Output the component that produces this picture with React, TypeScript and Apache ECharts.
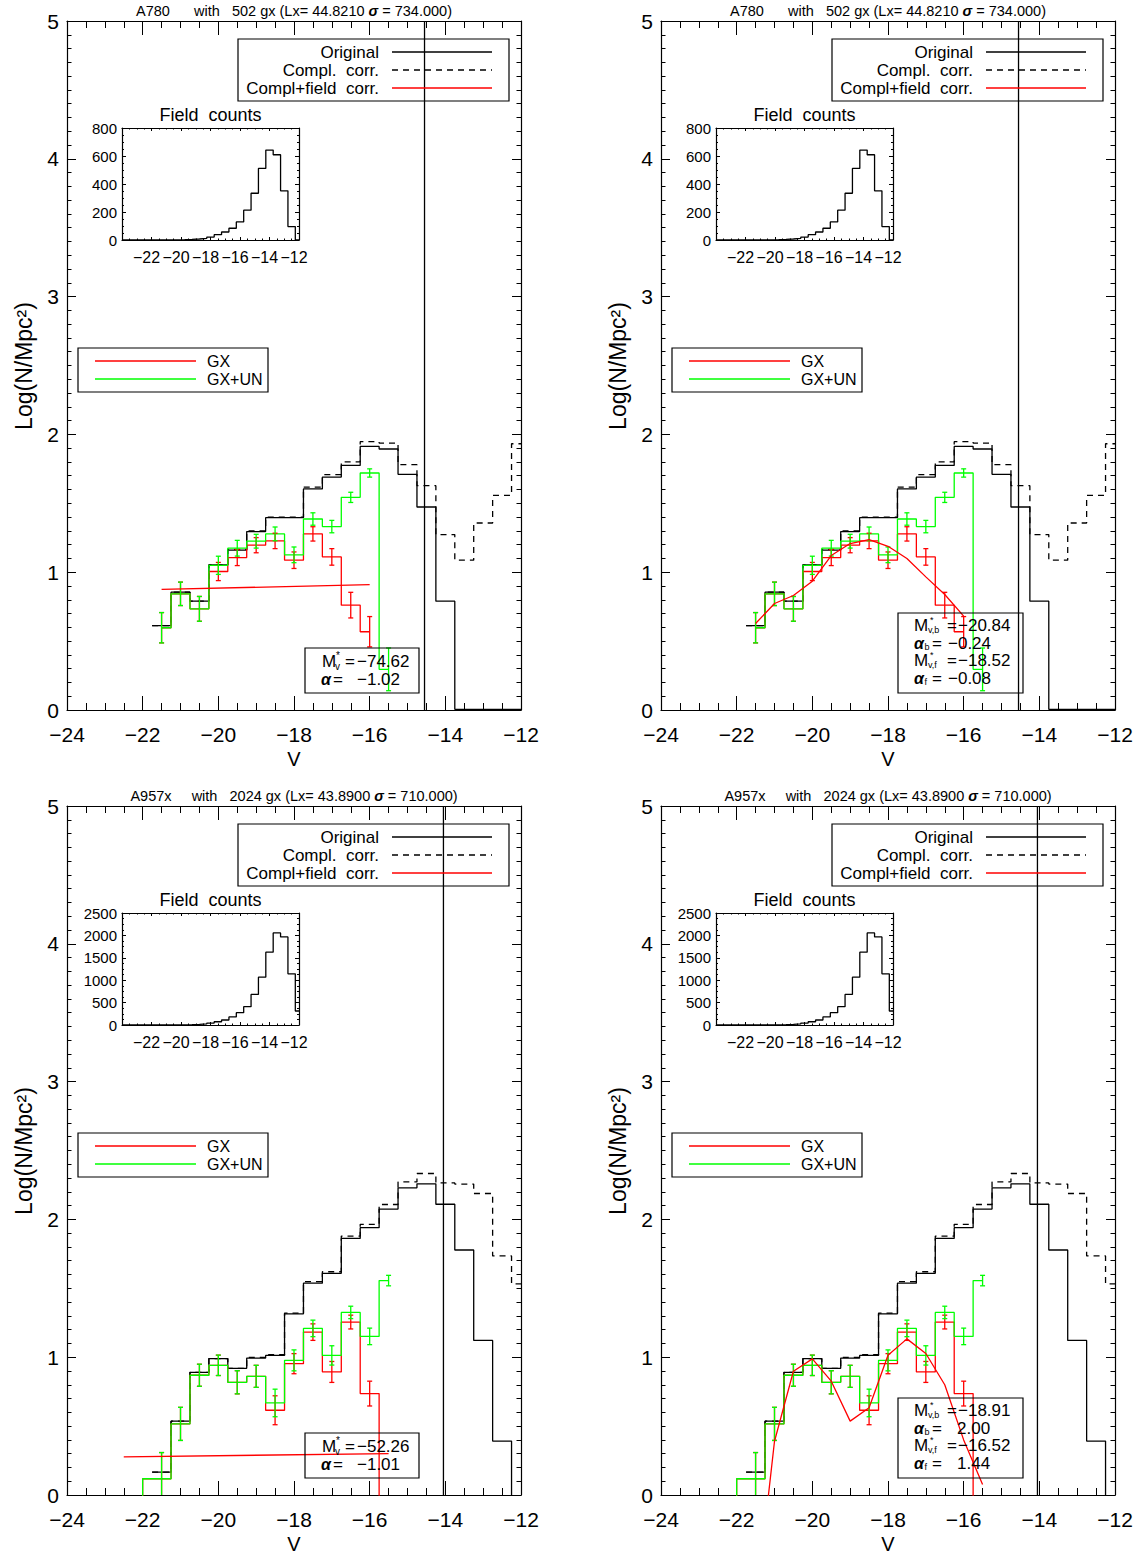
import React, { useEffect, useRef } from 'react';
import * as echarts from 'echarts';

const FONT = 'Liberation Sans';
const BIN_HALF = 0.25;
const RED = '#ff0000';
const GREEN = '#00ff00';
const BLACK = '#000000';

// ---------- main-panel bins (V magnitude bin centres) ----------
const mainBins = [-21.5, -21.0, -20.5, -20.0, -19.5, -19.0, -18.5, -18.0, -17.5, -17.0, -16.5, -16.0, -15.5, -15.0, -14.5, -14.0, -13.5, -13.0, -12.5, -12.0];

// ---------- A780 ----------
const a780Original = [0.613, 0.855, 0.79, 1.053, 1.16, 1.295, 1.396, 1.396, 1.604, 1.69, 1.775, 1.913, 1.894, 1.71, 1.473, 0.79, 0.005, 0.005, 0.005, 0.005];
const a780Compl = [0.613, 0.855, 0.79, 1.053, 1.165, 1.3, 1.4, 1.4, 1.618, 1.708, 1.8, 1.947, 1.937, 1.78, 1.628, 1.273, 1.087, 1.357, 1.558, 1.932];
const a780GxUnBins = [-21.5, -21.0, -20.5, -20.0, -19.5, -19.0, -18.5, -18.0, -17.5, -17.0, -16.5, -16.0, -15.5];
const a780GxUn = [0.597, 0.843, 0.734, 1.05, 1.174, 1.225, 1.278, 1.126, 1.386, 1.331, 1.543, 1.72, 0.295];
const a780GxUnErr = [0.11, 0.085, 0.09, 0.066, 0.057, 0.05, 0.05, 0.057, 0.045, 0.045, 0.037, 0.03, 0.155];
const a780GxBins = [-21.5, -21.0, -20.5, -20.0, -19.5, -19.0, -18.5, -18.0, -17.5, -17.0, -16.5, -16.0];
const a780Gx = [0.597, 0.843, 0.734, 1.005, 1.106, 1.196, 1.227, 1.087, 1.278, 1.111, 0.761, 0.568];
const a780GxErr = [0.11, 0.085, 0.09, 0.066, 0.058, 0.055, 0.056, 0.06, 0.052, 0.06, 0.093, 0.11];
const a780Cut = -14.55;
const a780SingleFitX = [-21.5, -16.0];
const a780SingleFitY = [0.875, 0.91];
const a780DoubleFitX = [-21.5, -21.0, -20.5, -20.0, -19.5, -19.0, -18.5, -18.0, -17.5, -17.0, -16.5, -16.0];
const a780DoubleFitY = [0.628, 0.773, 0.831, 0.935, 1.121, 1.208, 1.237, 1.188, 1.099, 0.966, 0.838, 0.681];

// ---------- A957x ----------
const a957Original = [0.166, 0.536, 0.89, 0.99, 0.919, 0.994, 1.013, 1.315, 1.537, 1.609, 1.862, 1.94, 2.075, 2.229, 2.258, 2.11, 1.778, 1.122, 0.391, -1];
const a957Compl = [0.166, 0.536, 0.89, 0.99, 0.919, 0.999, 1.018, 1.32, 1.549, 1.62, 1.879, 1.964, 2.108, 2.272, 2.333, 2.265, 2.256, 2.188, 1.735, 1.532];
const a957GxBins = [-22.0, -21.5, -21.0, -20.5, -20.0, -19.5, -19.0, -18.5, -18.0, -17.5, -17.0, -16.5, -16.0, -15.5];
const a957GxUn = [0.118, 0.118, 0.516, 0.869, 0.941, 0.818, 0.861, 0.668, 0.977, 1.209, 1.013, 1.325, 1.151, 1.556];
const a957GxUnErr = [0, 0.19, 0.12, 0.08, 0.074, 0.084, 0.08, 0.1, 0.076, 0.06, 0.07, 0.045, 0.06, 0.038];
const a957Gx = [0.118, 0.118, 0.516, 0.869, 0.941, 0.818, 0.861, 0.615, 0.953, 1.182, 0.893, 1.255, 0.736, -1];
const a957GxErr = [0, 0.19, 0.12, 0.08, 0.074, 0.084, 0.08, 0.105, 0.073, 0.06, 0.076, 0.05, 0.09, 0];
const a957Cut = -14.05;
const a957SingleFitX = [-22.5, -15.5];
const a957SingleFitY = [0.277, 0.3];
const a957DoubleFitX = [-21.5, -21.0, -20.5, -20.0, -19.5, -19.0, -18.5, -18.0, -17.5, -17.0, -16.5, -16.0, -15.5];
const a957DoubleFitY = [-0.83, 0.39, 0.898, 0.988, 0.826, 0.536, 0.633, 1.014, 1.133, 1.027, 0.8, 0.4, 0.077];

// ---------- field counts (inset) ----------
const fieldBins = [-24.0, -23.5, -23.0, -22.5, -22.0, -21.5, -21.0, -20.5, -20.0, -19.5, -19.0, -18.5, -18.0, -17.5, -17.0, -16.5, -16.0, -15.5, -15.0, -14.5, -14.0, -13.5, -13.0, -12.5, -12.0];
const a780Field = [0, 0, 0, 0, 0, 0, 1, 1, 2, 4, 7, 12, 21, 38, 57, 84, 129, 213, 334, 511, 642, 609, 351, 96, 0];
const a957Field = [0, 0, 0, 0, 0, 0, 1, 2, 4, 8, 14, 25, 42, 72, 112, 180, 275, 408, 682, 1068, 1625, 2055, 1966, 1142, 312];

// ---------- texts ----------
const a780Title = 'A780      with   502 gx (Lx= 44.8210 {s|σ} = 734.000)';
const a957Title = 'A957x     with   2024 gx (Lx= 43.8900 {s|σ} = 710.000)';
const a780SingleText = ['−74.62', '−1.02'];
const a957SingleText = ['−52.26', '−1.01'];
const a780DoubleText = ['−20.84', '−0.24', '−18.52', '−0.08'];
const a957DoubleText = ['−18.91', '2.00', '−16.52', '1.44'];

const clusters = {
  A780: {
    title: a780Title, original: a780Original, compl: a780Compl,
    gxunBins: a780GxUnBins, gxun: a780GxUn, gxunErr: a780GxUnErr, gxunRange: [-21.5, -15.5], gxunFromBelow: false,
    gxBins: a780GxBins, gx: a780Gx, gxErr: a780GxErr, gxRange: [-21.5, -16.0], gxFromBelow: false,
    cut: a780Cut, singleX: a780SingleFitX, singleY: a780SingleFitY, doubleX: a780DoubleFitX, doubleY: a780DoubleFitY,
    field: a780Field, fieldMax: 800, fieldInterval: 200,
    singleText: a780SingleText, doubleText: a780DoubleText,
  },
  A957: {
    title: a957Title, original: a957Original, compl: a957Compl,
    gxunBins: a957GxBins, gxun: a957GxUn, gxunErr: a957GxUnErr, gxunRange: [-22.0, -15.5], gxunFromBelow: true,
    gxBins: a957GxBins, gx: a957Gx, gxErr: a957GxErr, gxRange: [-22.0, -15.5], gxFromBelow: true,
    cut: a957Cut, singleX: a957SingleFitX, singleY: a957SingleFitY, doubleX: a957DoubleFitX, doubleY: a957DoubleFitY,
    field: a957Field, fieldMax: 2500, fieldInterval: 500,
    singleText: a957SingleText, doubleText: a957DoubleText,
  },
};

const panels = [
  { dx: 0, dy: 0, cluster: 'A780', fit: 'single' },
  { dx: 594, dy: 0, cluster: 'A780', fit: 'double' },
  { dx: 0, dy: 785, cluster: 'A957', fit: 'single' },
  { dx: 594, dy: 785, cluster: 'A957', fit: 'double' },
];

function steps(centers: number[], values: number[], start: number, end: number, fromBelow = false) {
  const pts: number[][] = [];
  if (fromBelow) pts.push([start, -1]);
  centers.forEach((c, i) => {
    const x0 = Math.max(c - BIN_HALF, start);
    const x1 = Math.min(c + BIN_HALF, end);
    if (x1 <= x0) return;
    pts.push([x0, values[i]], [x1, values[i]]);
  });
  return pts;
}

const minusFmt = (v: number) => (v < 0 ? '\u2212' + Math.abs(v) : String(v));

function xAxisDef(grid: number, pos: string, inset: boolean, showLabel: boolean) {
  return {
    gridIndex: grid, type: 'value', min: -24, max: -12, interval: 2, position: pos,
    axisLine: { show: true, onZero: false, lineStyle: { color: BLACK, width: 1.2 } },
    axisTick: { show: true, inside: true, length: inset ? 3 : 14, lineStyle: { color: BLACK, width: 1 } },
    minorTick: { show: true, splitNumber: 4, length: inset ? 1.5 : 7, lineStyle: { color: BLACK, width: 1 } },
    axisLabel: {
      show: showLabel, color: BLACK, fontFamily: FONT, fontSize: inset ? 16 : 21, margin: inset ? 9 : 14,
      formatter: inset ? (v: number) => (v === -24 ? '' : minusFmt(v)) : minusFmt,
      padding: inset ? [0, 10, 0, 0] : 0,
    },
    splitLine: { show: false }, minorSplitLine: { show: false },
  };
}

function yAxisDef(grid: number, pos: string, max: number, interval: number, inset: boolean, showLabel: boolean) {
  return {
    gridIndex: grid, type: 'value', min: 0, max, interval, position: pos,
    axisLine: { show: true, onZero: false, lineStyle: { color: BLACK, width: 1.2 } },
    axisTick: { show: true, inside: true, length: inset ? 4 : 9, lineStyle: { color: BLACK, width: 1 } },
    minorTick: { show: true, splitNumber: inset ? 4 : 10, length: inset ? 2 : 4.5, lineStyle: { color: BLACK, width: 1 } },
    axisLabel: { show: showLabel, color: BLACK, fontFamily: FONT, fontSize: inset ? 15 : 21, margin: inset ? 5 : 8, formatter: minusFmt },
    splitLine: { show: false }, minorSplitLine: { show: false },
  };
}

function lineSeries(ax: number, data: number[][], color: string, dashed = false, z = 2) {
  return {
    type: 'line', xAxisIndex: ax, yAxisIndex: ax, data, symbol: 'none', showSymbol: false,
    lineStyle: { color, width: 1.3, type: dashed ? [6, 5] : 'solid' }, clip: true, z, silent: true,
  };
}

function errSeries(ax: number, centers: number[], vals: number[], errs: number[], color: string) {
  return {
    type: 'custom', xAxisIndex: ax, yAxisIndex: ax, clip: true, z: 4, silent: true,
    data: centers.map((c, i) => [c, vals[i], errs[i]]).filter((d) => d[2] > 0),
    renderItem: (params: any, api: any) => {
      const x = api.value(0), y = api.value(1), e = api.value(2);
      const t = api.coord([x, y + e]);
      const b = api.coord([x, y - e]);
      const w = 2.5;
      const st = { stroke: color, lineWidth: 1.3 };
      return {
        type: 'group',
        children: [
          { type: 'line', shape: { x1: t[0], y1: t[1], x2: b[0], y2: b[1] }, style: st },
          { type: 'line', shape: { x1: t[0] - w, y1: t[1], x2: t[0] + w, y2: t[1] }, style: st },
          { type: 'line', shape: { x1: b[0] - w, y1: b[1], x2: b[0] + w, y2: b[1] }, style: st },
        ],
      };
    },
  };
}

function txt(x: number, y: number, text: string, size: number, align = 'left', extra: any = {}) {
  return {
    type: 'text', x, y, z: 20, silent: true,
    style: {
      text, fontSize: size, fontFamily: FONT, fill: BLACK,
      align, textAlign: align, verticalAlign: 'middle', textVerticalAlign: 'middle', ...extra,
    },
  };
}
function gline(x1: number, y1: number, x2: number, y2: number, color: string, dash?: number[]) {
  return { type: 'line', z: 20, silent: true, shape: { x1, y1, x2, y2 }, style: { stroke: color, lineWidth: 1.3, lineDash: dash } };
}
function grect(x: number, y: number, width: number, height: number) {
  return { type: 'rect', z: 20, silent: true, shape: { x, y, width, height }, style: { fill: 'none', stroke: BLACK, lineWidth: 1.2 } };
}

function panelGraphics(p: any, c: any) {
  const { dx, dy } = p;
  const g: any[] = [];
  g.push(txt(294 + dx, 11 + dy, c.title, 14.5, 'center', {
    rich: { s: { fontSize: 14.5, fontFamily: FONT, fontWeight: 'bold', fontStyle: 'italic', fill: BLACK } },
  }));
  g.push({ ...txt(24 + dx, 366 + dy, 'Log(N/Mpc²)', 23, 'center'), rotation: Math.PI / 2 });
  g.push(txt(294 + dx, 759 + dy, 'V', 20, 'center'));
  // top legend
  g.push(grect(238 + dx, 39 + dy, 271, 62));
  g.push(txt(379 + dx, 52 + dy, 'Original', 17, 'right'));
  g.push(txt(379 + dx, 70 + dy, 'Compl.  corr.', 17, 'right'));
  g.push(txt(379 + dx, 88 + dy, 'Compl+field  corr.', 17, 'right'));
  g.push(gline(392 + dx, 52 + dy, 492 + dx, 52 + dy, BLACK));
  g.push(gline(392 + dx, 70 + dy, 492 + dx, 70 + dy, BLACK, [6, 5]));
  g.push(gline(392 + dx, 88 + dy, 492 + dx, 88 + dy, RED));
  // GX legend
  g.push(grect(78 + dx, 348 + dy, 190, 44));
  g.push(gline(95 + dx, 361 + dy, 196 + dx, 361 + dy, RED));
  g.push(gline(95 + dx, 379 + dy, 196 + dx, 379 + dy, GREEN));
  g.push(txt(207 + dx, 361 + dy, 'GX', 16));
  g.push(txt(207 + dx, 379 + dy, 'GX+UN', 16));
  // inset title
  g.push(txt(210.5 + dx, 115 + dy, 'Field  counts', 18, 'center'));
  // fit text box
  const alpha = { fontWeight: 'bold', fontStyle: 'italic' };
  if (p.fit === 'single') {
    const y1 = 661 + dy, y2 = 679 + dy;
    g.push(grect(305 + dx, 648 + dy, 114, 45));
    g.push(txt(322 + dx, y1, 'M', 17));
    g.push(txt(336 + dx, y1 - 6, '*', 10));
    g.push(txt(335 + dx, y1 + 5, 'v', 10));
    g.push(txt(345 + dx, y1, '=', 17));
    g.push(txt(357 + dx, y1, c.singleText[0], 17));
    g.push(txt(321 + dx, y2, 'α', 16, 'left', alpha));
    g.push(txt(333 + dx, y2, '=', 17));
    g.push(txt(357 + dx, y2, c.singleText[1], 17));
  } else {
    const ys = [625, 643, 660, 678].map((v) => v + dy);
    g.push(grect(304 + dx, 613 + dy, 125, 80));
    const subs = ['v,b', 'b', 'v,f', 'f'];
    for (let k = 0; k < 4; k++) {
      const y = ys[k];
      const val = c.doubleText[k];
      if (k % 2 === 0) {
        g.push(txt(320 + dx, y, 'M', 17));
        g.push(txt(336 + dx, y - 5, '*', 9));
        g.push(txt(334 + dx, y + 5, subs[k], 9));
        g.push(txt(353 + dx, y, '=', 17));
        g.push(txt(364 + dx, y, val, 17));
      } else {
        g.push(txt(320 + dx, y, 'α', 16, 'left', alpha));
        g.push(txt(330.5 + dx, y + 4, subs[k], 9));
        g.push(txt(338 + dx, y, '=', 17));
        g.push(txt(354 + dx + (val.startsWith('−') ? 0 : 9), y, val, 17));
      }
    }
  }
  return g;
}

function buildOption() {
  const grid: any[] = [], xAxis: any[] = [], yAxis: any[] = [], series: any[] = [], graphic: any[] = [];
  panels.forEach((p, i) => {
    const c = (clusters as any)[p.cluster];
    const gMain = 2 * i, gIn = 2 * i + 1;
    grid.push({ left: 67 + p.dx, top: 21 + p.dy, width: 454, height: 689, containLabel: false, outerBoundsMode: 'none' });
    grid.push({ left: 122 + p.dx, top: 128 + p.dy, width: 177, height: 112, containLabel: false, outerBoundsMode: 'none' });
    const axMain = 4 * i, axIn = 4 * i + 2;
    xAxis.push(xAxisDef(gMain, 'bottom', false, true), xAxisDef(gMain, 'top', false, false),
      xAxisDef(gIn, 'bottom', true, true), xAxisDef(gIn, 'top', true, false));
    yAxis.push(yAxisDef(gMain, 'left', 5, 1, false, true), yAxisDef(gMain, 'right', 5, 1, false, false),
      yAxisDef(gIn, 'left', c.fieldMax, c.fieldInterval, true, true), yAxisDef(gIn, 'right', c.fieldMax, c.fieldInterval, true, false));

    series.push(lineSeries(axMain, steps(mainBins, c.compl, -21.75, -12), BLACK, true, 2));
    series.push(lineSeries(axMain, steps(mainBins, c.original, -21.75, -12), BLACK, false, 2));
    series.push(lineSeries(axMain, steps(c.gxBins, c.gx, c.gxRange[0], c.gxRange[1], c.gxFromBelow), RED, false, 3));
    series.push(lineSeries(axMain, steps(c.gxunBins, c.gxun, c.gxunRange[0], c.gxunRange[1], c.gxunFromBelow), GREEN, false, 3));
    series.push(errSeries(axMain, c.gxBins, c.gx, c.gxErr, RED));
    series.push(errSeries(axMain, c.gxunBins, c.gxun, c.gxunErr, GREEN));
    series.push(lineSeries(axMain, [[c.cut, 0], [c.cut, 5]], BLACK, false, 5));
    if (p.fit === 'single') {
      series.push(lineSeries(axMain, c.singleX.map((x: number, k: number) => [x, c.singleY[k]]), RED, false, 6));
    } else {
      series.push(lineSeries(axMain, c.doubleX.map((x: number, k: number) => [x, c.doubleY[k]]), RED, false, 6));
    }
    series.push(lineSeries(axIn, steps(fieldBins, c.field, -24, -12), BLACK, false, 2));
    graphic.push(...panelGraphics(p, c));
  });
  return { animation: false, backgroundColor: '#ffffff', grid, xAxis, yAxis, series, graphic };
}

export default function App() {
  const ref = useRef<HTMLDivElement>(null);
  useEffect(() => {
    if (!ref.current) return;
    const chart = echarts.init(ref.current, undefined, { renderer: 'svg' });
    chart.setOption(buildOption() as any);
    return () => chart.dispose();
  }, []);
  return (
    <div
      ref={ref}
      style={{ position: 'absolute', left: 0, top: 0, width: 1144, height: 1555, background: '#fff' }}
    />
  );
}
